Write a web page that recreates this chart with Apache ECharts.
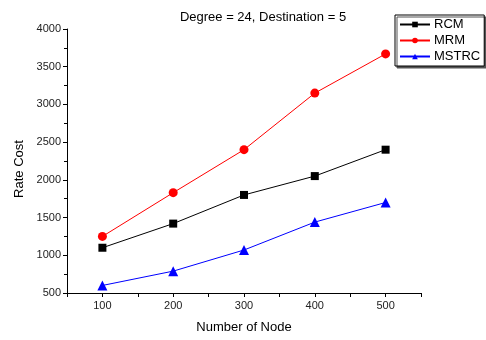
<!DOCTYPE html>
<html>
<head>
<meta charset="utf-8">
<script src="https://cdn.jsdelivr.net/npm/echarts@6/dist/echarts.min.js"></script>
<style>
  html, body { margin: 0; padding: 0; background: #fff; }
  #chart { width: 486px; height: 340px; }
</style>
</head>
<body>
<div id="chart"></div>
<script>
// Number of nodes on the x axis
const nodes = [100, 200, 300, 400, 500];
// Rate cost per algorithm
const rcm = [1100, 1420, 1800, 2050, 2400];
const mrm = [1250, 1830, 2400, 3150, 3670];
const mstrc = [600, 790, 1070, 1440, 1700];
const xTickLabels = [100, 200, 300, 400, 500];

const FONT = 'Liberation Sans, Arial, sans-serif';

function pairs(vals) {
  return nodes.map((n, i) => [n, vals[i]]);
}

const chart = echarts.init(document.getElementById('chart'), null, { renderer: 'canvas' });

function lineSeries(name, vals, color, symbol, size) {
  return {
    name: name,
    type: 'line',
    data: pairs(vals),
    symbol: symbol,
    symbolSize: size,
    showAllSymbol: true,
    lineStyle: { color: color, width: 1 },
    itemStyle: { color: color },
    animation: false
  };
}

chart.setOption({
  backgroundColor: '#fff',
  animation: false,
  title: {
    text: 'Degree = 24, Destination = 5',
    left: 258,
    textAlign: 'center',
    top: 6,
    textStyle: { fontFamily: FONT, fontSize: 13, fontWeight: 'normal', color: '#000' }
  },
  legend: {
    orient: 'vertical',
    left: 395,
    top: 15,
    width: 86,
    itemWidth: 30,
    itemHeight: 7,
    itemGap: 3,
    padding: [3, 4, 3, 4],
    borderColor: '#000',
    borderWidth: 1,
    backgroundColor: '#fff',
    shadowColor: '#555',
    shadowOffsetX: 2,
    shadowOffsetY: 2,
    shadowBlur: 0,
    textStyle: { fontFamily: FONT, fontSize: 13, color: '#000', padding: [0, 0, 0, -1] },
    data: ['RCM', 'MRM', 'MSTRC']
  },
  grid: { left: 67, right: 65, top: 29, bottom: 47, containLabel: false },
  xAxis: {
    type: 'value',
    min: 50,
    max: 550,
    interval: 50,
    name: 'Number of Node',
    nameLocation: 'middle',
    nameGap: 28,
    nameTextStyle: { fontFamily: FONT, fontSize: 13, color: '#000' },
    axisLine: { show: true, lineStyle: { color: '#000', width: 1 } },
    axisTick: { show: true, length: 4, lineStyle: { color: '#000' } },
    axisLabel: {
      fontFamily: FONT, fontSize: 11, color: '#222', margin: 7,
      formatter: v => (xTickLabels.indexOf(v) >= 0 ? String(v) : '')
    },
    splitLine: { show: false }
  },
  yAxis: {
    type: 'value',
    min: 500,
    max: 4000,
    interval: 500,
    name: 'Rate Cost',
    nameLocation: 'middle',
    nameGap: 40,
    nameTextStyle: { fontFamily: FONT, fontSize: 13, color: '#000', padding: [0, 16, 0, 0] },
    axisLine: { show: true, lineStyle: { color: '#000', width: 1 } },
    axisTick: { show: true, length: 4, lineStyle: { color: '#000' } },
    minorTick: { show: true, splitNumber: 2, length: 3, lineStyle: { color: '#000' } },
    axisLabel: {
      fontFamily: FONT, fontSize: 11, color: '#222', margin: 6,
      formatter: v => String(v)
    },
    splitLine: { show: false }
  },
  series: [
    lineSeries('RCM', rcm, '#000000', 'rect', 8),
    lineSeries('MRM', mrm, '#ff0000', 'circle', 9),
    lineSeries('MSTRC', mstrc, '#0000ff', 'triangle', 10)
  ]
});
</script>
</body>
</html>
